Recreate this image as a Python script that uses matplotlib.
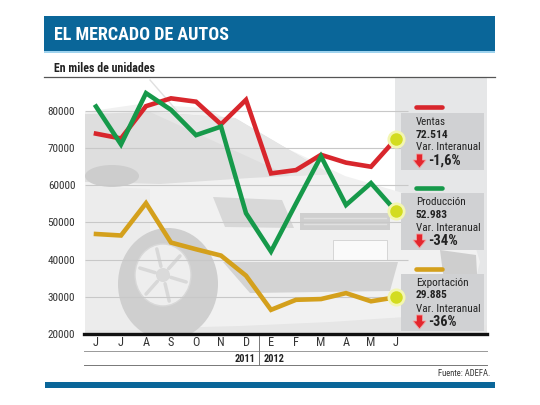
import math
import os
import matplotlib
matplotlib.use("Agg")
import matplotlib.pyplot as plt
import matplotlib.font_manager as fm
from matplotlib.font_manager import FontProperties
from matplotlib.patches import Rectangle, Polygon, Ellipse, Circle
from matplotlib.lines import Line2D
from matplotlib.transforms import Affine2D

# datos (en unidades)
meses = ["J", "J", "A", "S", "O", "N", "D", "E", "F", "M", "A", "M", "J"]
ventas = [73900, 72600, 81300, 83400, 82500, 76400, 83000, 63200, 64100, 68200, 66100, 65000, 72514]
produccion = [81200, 71000, 84800, 80300, 73500, 75800, 52500, 42200, 55100, 67800, 54700, 60600, 52983]
exportacion = [46900, 46500, 55200, 44600, 42800, 41100, 35700, 26500, 29200, 29400, 31000, 28800, 29885]
yticks = [20000, 30000, 40000, 50000, 60000, 70000, 80000]

series = [
    ("Ventas", ventas, "#d8262c", "72.514", "-1,6%"),
    ("Producción", produccion, "#16994a", "52.983", "-34%"),
    ("Exportación", exportacion, "#d4a01c", "29.885", "-36%"),
]


# ----------------------------
# buscar una fuente condensada si existe
# ----------------------------
def pick_font(cands, family, weight):
    paths = fm.findSystemFonts()
    names = {os.path.basename(p).lower(): p for p in paths}
    for c in cands:
        if c.lower() in names:
            return FontProperties(fname=names[c.lower()])
    return FontProperties(family=family, weight=weight)


fp_bold = pick_font(["LiberationSansNarrow-Bold.ttf", "RobotoCondensed-Bold.ttf", "NotoSans-CondensedBold.ttf",
                     "OpenSans-CondensedBold.ttf", "DejaVuSansCondensed-Bold.ttf"], "Liberation Sans", "bold")
fp_reg = pick_font(["LiberationSansNarrow-Regular.ttf", "RobotoCondensed-Regular.ttf", "NotoSans-Condensed.ttf",
                    "OpenSans-CondensedRegular.ttf", "DejaVuSansCondensed.ttf"], "Liberation Sans", "normal")

W, H = 540, 405
fig = plt.figure(figsize=(W / 100, H / 100), dpi=100)
fig.patch.set_facecolor("white")
renderer = fig.canvas.get_renderer()
# transformacion en pixeles (origen arriba a la izquierda)
pxt = Affine2D().scale(1 / W, -1 / H).translate(0, 1) + fig.transFigure


def texto(x, y, s, fp, size, width=None, **kw):
    f = fp.copy()
    f.set_size(size)
    t = fig.text(x / W, 1 - y / H, s, fontproperties=f, **kw)
    if width:
        bb = t.get_window_extent(renderer)
        f.set_size(size * width / bb.width)
        t.set_fontproperties(f)
    return t


def escala(fp, s, size, width):
    t = texto(0, 0, s, fp, size)
    w = t.get_window_extent(renderer).width
    t.remove()
    return size * width / w


# ----------------------------
# cabecera
# ----------------------------
fig.patches.append(Rectangle((44, 16), 451, 36, transform=pxt, facecolor="#0a6699", edgecolor="none"))
fig.patches.append(Rectangle((44, 51), 451, 1.5, transform=pxt, facecolor="#9fd3ee", edgecolor="none"))
texto(54, 35, "EL MERCADO DE AUTOS", fp_bold, 14, width=176, color="white", va="center", ha="left")
texto(54, 69, "En miles de unidades", fp_bold, 8.5, width=101, color="#222222", va="center", ha="left")
fig.lines.append(Line2D([44, 495], [76.5, 76.5], transform=pxt, color="#555555", lw=0.9))

# ----------------------------
# ejes principales
# ----------------------------
x0, x1, y0, y1 = 85, 487, 77, 334
ax = fig.add_axes([x0 / W, 1 - y1 / H, (x1 - x0) / W, (y1 - y0) / H])
ax.set_facecolor("none")
ymin = 20000
ymax = 80000 + (111 - 77) * 10000 / 37.2
ax.set_xlim((x0 - 96) / 25, (x1 - 96) / 25)
ax.set_ylim(ymin, ymax)
for s in ax.spines.values():
    s.set_visible(False)
ax.set_xticks([])
ax.set_yticks(yticks)
tick_size = escala(fp_reg, "80000", 8, 28)
fp_tick = fp_reg.copy()
fp_tick.set_size(tick_size)
ax.set_yticklabels([str(v) for v in yticks], fontproperties=fp_tick, color="#333333")
ax.tick_params(axis="y", length=0, pad=7)

# panel gris de la leyenda
ax.add_patch(Rectangle((395, 77), 92, 257, transform=pxt, facecolor="#e6e7e8", edgecolor="none", zorder=0.1))

# ----------------------------
# auto de fondo (dibujo aproximado)
# ----------------------------
car = [
    Ellipse((285, 330), 420, 30, facecolor="#e6e6e6"),
    Polygon([(85, 112), (140, 104), (205, 108), (265, 138), (345, 176), (420, 198), (468, 222),
             (480, 262), (470, 302), (420, 316), (330, 322), (240, 326), (85, 330)], facecolor="#f1f1f1"),
    Polygon([(85, 114), (150, 112), (235, 118), (330, 174), (250, 178), (160, 184), (85, 182)],
            facecolor="#dedede"),
    Polygon([(150, 112), (235, 118), (330, 174), (290, 176)], facecolor="#e6e6e6"),
    Ellipse((112, 176), 54, 22, facecolor="#cdcdcd"),
    Polygon([(85, 186), (150, 189), (150, 330), (85, 330)], facecolor="#ececec"),
    Polygon([(213, 197), (282, 200), (294, 228), (225, 227)], facecolor="#d8d8d8"),
    Rectangle((300, 213), 90, 17, facecolor="#cfcfcf"),
    Polygon([(223, 262), (398, 262), (390, 291), (250, 293)], facecolor="#d3d3d3"),
    Rectangle((333, 240), 54, 20, facecolor="#fafafa", edgecolor="#d0d0d0", lw=0.6),
    Polygon([(440, 250), (476, 255), (478, 292), (446, 296)], facecolor="#cecece"),
    Ellipse((168, 284), 100, 112, facecolor="#cfcfcf"),
    Ellipse((163, 275), 56, 62, facecolor="#eeeeee", edgecolor="#d8d8d8", lw=1),
    Circle((163, 275), 7, facecolor="#dadada"),
]
for p in car:
    p.set_transform(pxt)
    if p.get_linewidth() == 0 or p.get_edgecolor()[3] == 0:
        p.set_edgecolor("none")
    p.set_zorder(0.5)
    ax.add_patch(p)
for yy in (218, 224):
    ax.add_line(Line2D([304, 386], [yy, yy], transform=pxt, color="#e0e0e0", lw=1.0, zorder=0.6))
for ang in range(0, 360, 60):
    c, s = math.cos(math.radians(ang + 15)), math.sin(math.radians(ang + 15))
    ax.add_line(Line2D([163 + 8 * c, 163 + 24 * c], [275 + 9 * s, 275 + 27 * s],
                       transform=pxt, color="#d8d8d8", lw=2.5, zorder=0.6, solid_capstyle="round"))
ax.add_line(Line2D([150, 178], [80, 112], transform=pxt, color="#e0e0e0", lw=1, zorder=0.6))

# lineas de grilla
xs = list(range(len(meses)))
ax.hlines(yticks[1:], (x0 - 96) / 25, (408 - 96) / 25, color="#c8c8c8", lw=0.8, zorder=1)

# series
for nombre, vals, col, _, _ in series:
    ax.plot(xs, vals, color=col, lw=3.3, solid_joinstyle="miter", zorder=5)
    ax.plot(xs[-1], vals[-1], "o", ms=13, color="#f3f6b0", mec="none", zorder=6)
    ax.plot(xs[-1], vals[-1], "o", ms=9, color="#d3dc20", mec="none", zorder=7)

# ----------------------------
# leyenda lateral
# ----------------------------
cajas = [(107, 113), (188, 193), (269, 274)]
anchos = [(30, 32, 33), (50, 32, 30), (53, 32, 29)]
for (nombre, vals, col, valor, var), (ly, by), (wn, wv, wp) in zip(series, cajas, anchos):
    fig.lines.append(Line2D([416, 442], [ly, ly], transform=pxt, color=col, lw=3.3, solid_capstyle="round"))
    box = Rectangle((401, by), 83, 57, transform=pxt, facecolor="#d0d1d3", edgecolor="none", zorder=3)
    box.set_clip_on(False)
    ax.add_patch(box)
    texto(416, by + 9, nombre, fp_reg, 8, width=wn, color="#222222", va="center")
    texto(416, by + 21.5, valor, fp_bold, 8.5, width=wv, color="#222222", va="center")
    texto(416, by + 34.5, "Var. Interanual", fp_reg, 8, width=65, color="#222222", va="center")
    texto(428, by + 48, var, fp_bold, 9.5, width=wp, color="#222222", va="center")
    # flecha roja hacia abajo
    cx, ty = 419, by + 41
    fig.patches.append(Polygon([(cx - 2.5, ty), (cx + 3.5, ty), (cx + 3.5, ty + 6), (cx + 7, ty + 6),
                                (cx + 0.5, ty + 14), (cx - 6, ty + 6), (cx - 2.5, ty + 6)],
                               transform=pxt, facecolor="#e3262d", edgecolor="#f2a0a0", lw=0.6))

# ----------------------------
# eje inferior
# ----------------------------
fig.lines.append(Line2D([84, 487], [334, 334], transform=pxt, color="#111111", lw=2.4))
fig.lines.append(Line2D([84, 487], [351, 351], transform=pxt, color="#999999", lw=0.7))
fig.lines.append(Line2D([84, 487], [365, 365], transform=pxt, color="#777777", lw=0.7))
fig.lines.append(Line2D([259, 259], [336, 365], transform=pxt, color="#777777", lw=0.7))
for i, m in enumerate(meses):
    texto(96 + 25 * i, 343, m, fp_reg, tick_size * 1.08, color="#333333", ha="center", va="center")
texto(255, 358.5, "2011", fp_bold, 8, width=21, color="#222222", ha="right", va="center")
texto(264, 358.5, "2012", fp_bold, 8, width=21, color="#222222", ha="left", va="center")
texto(490, 374, "Fuente: ADEFA.", fp_reg, 6.5, width=53, color="#333333", ha="right", va="center")
fig.patches.append(Rectangle((45, 382), 450, 6, transform=pxt, facecolor="#0a6699", edgecolor="none"))

fig.savefig("out.png", dpi=100)
